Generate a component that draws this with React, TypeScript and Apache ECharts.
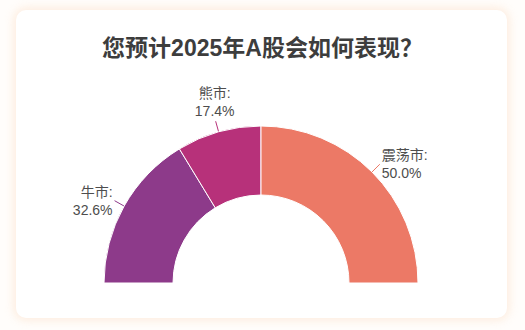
import React, { useEffect, useRef } from "react";
import * as echarts from "echarts";

const titleText = "您预计2025年A股会如何表现？";
const categories = ["牛市", "熊市", "震荡市"];
const percents = [32.6, 17.4, 50.0];
const colors = ["#8D3A8A", "#B7317A", "#EC7966"];

export default function App() {
  const ref = useRef<HTMLDivElement>(null);
  useEffect(() => {
    if (!ref.current) return;
    const chart = echarts.init(ref.current, undefined, { renderer: "svg" });
    const font = "'Liberation Sans', 'Noto Sans CJK SC', sans-serif";
    chart.setOption({
      animation: false,
      title: {
        text: titleText,
        left: "center",
        top: 31,
        textStyle: { fontSize: 23, fontWeight: "bold", color: "#3d3d3d", fontFamily: font },
      },
      series: [
        {
          type: "pie",
          center: [261, 283],
          radius: [88, 157],
          startAngle: 180,
          endAngle: 0,
          clockwise: true,
          avoidLabelOverlap: false,
          itemStyle: { borderColor: "#ffffff", borderWidth: 1 },
          label: {
            show: true,
            position: "outside",
            fontSize: 14,
            lineHeight: 18,
            color: "#4d4d4d",
            fontFamily: font,
            distanceToLabelLine: 2,
            formatter: (p: any) => p.name + ":\n" + Number(p.value).toFixed(1) + "%",
          },
          labelLine: { show: true, length: 11, length2: 0, lineStyle: { width: 1 } },
          labelLayout: (params: any) => {
            const pts = params.labelLinePoints;
            if (!pts || pts.length < 2) return {};
            const s = pts[0];
            const e = pts[pts.length - 1];
            const dx = e[0] - s[0];
            const dy = e[1] - s[1];
            if (Math.abs(dx) < Math.abs(dy) * 0.5) {
              return {
                x: e[0] - 1,
                y: e[1] - 1,
                align: "center",
                verticalAlign: "bottom",
                labelLinePoints: pts,
              };
            }
            return {};
          },
          data: categories.map((c, i) => ({
            name: c,
            value: percents[i],
            itemStyle: { color: colors[i] },
          })),
        },
      ],
    });
    return () => chart.dispose();
  }, []);

  return (
    <div style={{ position: "fixed", left: 0, top: 0, width: 525, height: 330, background: "#fffdfb" }}>
      <div
        style={{
          position: "absolute",
          left: 16,
          top: 10,
          width: 491,
          height: 308,
          borderRadius: 10,
          background: "#ffffff",
          boxShadow: "0 0 10px 2px rgba(250, 215, 185, 0.45)",
        }}
      />
      <div ref={ref} style={{ position: "absolute", left: 0, top: 0, width: 525, height: 330 }} />
    </div>
  );
}
